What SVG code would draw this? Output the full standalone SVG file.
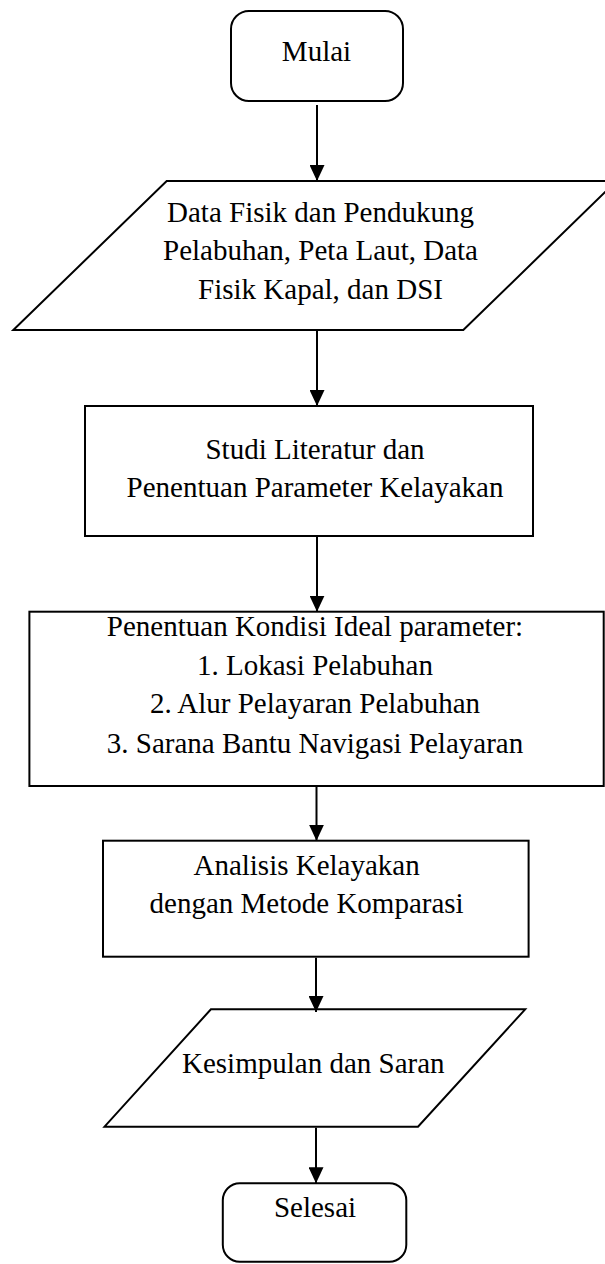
<svg xmlns="http://www.w3.org/2000/svg" width="605" height="1264" viewBox="0 0 605 1264">
<style>
.s{fill:#fff;stroke:#000;stroke-width:2}
.t{font-family:"Liberation Serif","Times New Roman",serif;font-size:29px;fill:#000;text-anchor:middle}
.c{fill:none;stroke:#000;stroke-width:2;marker-end:url(#ah)}
</style>
<defs>
<marker id="ah" markerUnits="userSpaceOnUse" markerWidth="16" markerHeight="15" refX="16" refY="7.5" orient="auto">
<path d="M0,0 L16,7.5 L0,15 z" fill="#000"/>
</marker>
</defs>
<rect width="605" height="1264" fill="#fff"/>
<g id="n1">
<rect class="s" x="231" y="11" width="172" height="90" rx="18"/>
<text class="t" x="316.5" y="61">Mulai</text>
</g>
<g id="n2">
<polygon class="s" points="166.7,181 616.5,181 463.3,330 13.3,330"/>
<text class="t" x="320.5" y="222">Data Fisik dan Pendukung</text>
<text class="t" x="320.5" y="260">Pelabuhan, Peta Laut, Data</text>
<text class="t" x="320.5" y="298.5">Fisik Kapal, dan DSI</text>
</g>
<g id="n3">
<rect class="s" x="85" y="406" width="448" height="130"/>
<text class="t" x="315" y="459.3">Studi Literatur dan</text>
<text class="t" x="315" y="497.3">Penentuan Parameter Kelayakan</text>
</g>
<g id="n4">
<rect class="s" x="29.4" y="611.7" width="574.3" height="174.3"/>
<text class="t" x="315" y="636">Penentuan Kondisi Ideal parameter:</text>
<text class="t" x="315" y="675">1. Lokasi Pelabuhan</text>
<text class="t" x="315" y="713.3">2. Alur Pelayaran Pelabuhan</text>
<text class="t" x="315" y="752.7">3. Sarana Bantu Navigasi Pelayaran</text>
</g>
<g id="n5">
<rect class="s" x="103" y="840.7" width="425.6" height="116"/>
<text class="t" x="306.6" y="875">Analisis Kelayakan</text>
<text class="t" x="306.6" y="913.3">dengan Metode Komparasi</text>
</g>
<g id="n6">
<polygon class="s" points="210.9,1009.3 525.2,1009.3 418,1126.7 104.5,1126.7"/>
<text class="t" x="313.3" y="1073.3">Kesimpulan dan Saran</text>
</g>
<g id="n7">
<rect class="s" x="222.8" y="1183.3" width="183.5" height="78.5" rx="17"/>
<text class="t" x="315" y="1216.7">Selesai</text>
</g>
<g id="connectors">
<line class="c" x1="317" y1="105" x2="317" y2="181"/>
<line class="c" x1="317" y1="331" x2="317" y2="406"/>
<line class="c" x1="317" y1="537" x2="317" y2="611.7"/>
<line class="c" x1="316.5" y1="787" x2="316.5" y2="840.7"/>
<line class="c" x1="316" y1="957.7" x2="316" y2="1012"/>
<line class="c" x1="316" y1="1127.7" x2="316" y2="1183.3"/>
</g>
</svg>
